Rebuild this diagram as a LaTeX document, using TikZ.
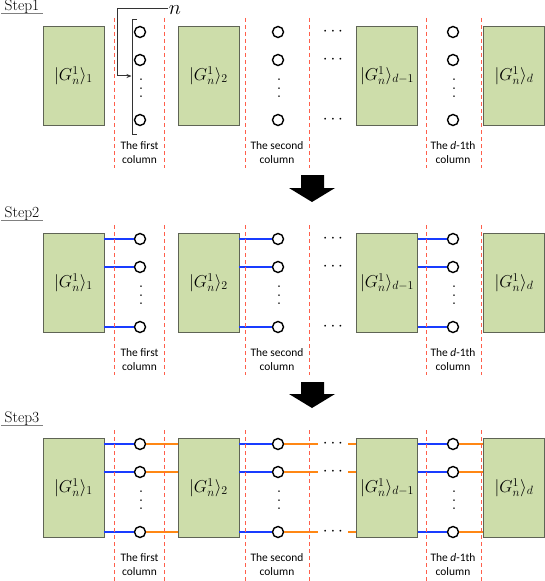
\documentclass[tikz,border=0pt]{standalone}
\usepackage{fontspec}
\newfontfamily\lblfont{Carlito}
\usetikzlibrary{arrows.meta}
\definecolor{boxfill}{RGB}{205,221,170}
\definecolor{boxedge}{RGB}{95,100,85}
\definecolor{reddash}{RGB}{255,95,75}
\definecolor{wireblue}{RGB}{25,60,255}
\definecolor{wireorange}{RGB}{255,135,20}
\newcommand\colvdots{\vbox{\baselineskip8.5bp\lineskiplimit0pt\hbox{.}\hbox{.}\hbox{.}}}
\tikzset{
  gbox/.style={draw=boxedge, fill=boxfill, line width=0.9bp, minimum width=61bp, minimum height=99bp, inner sep=0, font=\fontsize{17}{20}\selectfont},
  qubit/.style={circle, draw=black, fill=white, line width=1.4bp, minimum size=11bp, inner sep=0},
  sepline/.style={draw=reddash, dash pattern=on 4bp off 3bp, line width=0.9bp},
  collabel/.style={font=\lblfont\fontsize{11.5}{14}\selectfont, align=center, inner sep=0},
  steplabel/.style={font=\fontsize{15.5}{18}\selectfont, inner sep=0},
  hdots/.style={font=\fontsize{17}{20}\selectfont, inner sep=0, minimum width=30bp},
  vdotsnode/.style={font=\fontsize{20}{22}\selectfont, inner sep=0},
  bwire/.style={draw=wireblue, line width=1.7bp},
  owire/.style={draw=wireorange, line width=1.7bp},
  bigarrow/.style={fill=black},
}
\begin{document}
\begin{tikzpicture}[x=1bp,y=-1bp]
\useasboundingbox (0,0) rectangle (545,581);
\foreach \s/\t in {1/26,2/233,3/438}{
  \node[steplabel] (st\s) at (22,\t-19) {Step\s};
  \draw[gray, line width=1bp] ([xshift=-3bp,yshift=1bp]st\s.south west) -- ([xshift=3bp,yshift=1bp]st\s.south east);
  \node[gbox] (b\s1) at (73.5,\t+49.5) {$|G_n^1\rangle_1$};
  \node[gbox] (b\s2) at (208.5,\t+49.5) {$|G_n^1\rangle_2$};
  \node[gbox] (b\s3) at (387,\t+49.5) {$|G_n^1\rangle_{d-1}$};
  \node[gbox] (b\s4) at (514,\t+49.5) {$|G_n^1\rangle_d$};
  \foreach \c/\x in {1/140,2/278,3/453}{
    \foreach \r/\dy in {1/6,2/34,3/94}{
      \node[qubit] (q\s\c\r) at (\x,\t+\dy) {};
    }
    \node[vdotsnode] (v\s\c) at (\x+1,\t+62.5) {\colvdots};
  }
  \foreach \r/\dy in {1/6,2/34,3/94}{
    \node[hdots] (h\s\r) at (333,\t+\dy) {$\cdots$};
  }
  \node[collabel] (l\s1) at (139.5,\t+127) {The first\\column};
  \node[collabel] (l\s2) at (277,\t+127) {The second\\column};
  \node[collabel] (l\s3) at (453,\t+127) {The \textit{d}-1th\\column};
}
% Step 2 and 3 blue wires
\foreach \c in {1,2,3}{
  \foreach \r in {1,2,3}{
    \draw[bwire] (b2\c.east |- q2\c\r) -- (q2\c\r);
    \draw[bwire] (b3\c.east |- q3\c\r) -- (q3\c\r);
  }
}
% Step 3 orange wires
\foreach \r in {1,2,3}{
  \draw[owire] (q31\r) -- (b32.west |- q31\r);
  \draw[owire] (q32\r) -- (h3\r.west);
  \draw[owire] (h3\r.east) -- (b33.west |- h3\r);
  \draw[owire] (q33\r) -- (b34.west |- q33\r);
}
% n bracket
\node[font=\fontsize{22}{24}\selectfont, inner sep=0.5bp] (nlab) at (175,10.5) {$n$};
\coordinate (brk) at (131.5,76);
\draw[line width=1bp, black!80] (137,20) -- (132,20) -- (132,135) -- (137,135);
\draw[line width=1bp, black!80, -{Stealth[length=5bp,width=4bp]}] (nlab.west |- 0,9) -- (117,9) -- (117,76) -- (brk);
% separators
\foreach \t/\e in {26/142,233/142,438/143}{
  \foreach \x in {114.5,164.5,245,309,426,481}{
    \draw[sepline] (\x,\t-8) -- (\x,\t+\e);
  }
}
% big arrows
\fill[bigarrow] (301,175) -- (324,175) -- (324,188) -- (335,188) -- (312,202) -- (289,188) -- (301,188) -- cycle;
\fill[bigarrow] (301,382) -- (324,382) -- (324,394) -- (335,394) -- (312,408) -- (289,394) -- (301,394) -- cycle;
\end{tikzpicture}
\end{document}
